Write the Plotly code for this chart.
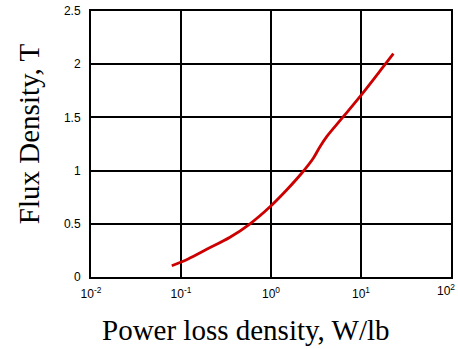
import plotly.graph_objects as go

power_loss = [0.079, 0.12, 0.193, 0.35, 0.585, 0.975, 1.5, 2.19, 2.95, 3.5, 4.16, 6.36, 10.2, 17.7, 22.9]
flux = [0.106, 0.17, 0.26, 0.373, 0.5, 0.66, 0.82, 0.975, 1.116, 1.225, 1.32, 1.507, 1.717, 1.977, 2.10]

x_tickvals = [0.01, 0.1, 1, 10]
x_ticktext = ["10<sup>-2</sup>", "10<sup>-1</sup>", "10<sup>0</sup>", "10<sup>1</sup>"]
x_last_tick = 100
x_last_text = "10<sup>2</sup>"
y_tickvals = [0, 0.5, 1, 1.5, 2, 2.5]
y_ticktext = ["0", "0.5", "1", "1.5", "2", "2.5"]

x_title = "Power loss density, W/lb"
y_title = "Flux Density, T"

fig = go.Figure()
fig.add_trace(go.Scatter(x=power_loss, y=flux, mode="lines",
                         line=dict(color="#cc0000", width=2.8, shape="spline"),
                         showlegend=False))

fig.update_layout(
    width=458, height=349,
    margin=dict(l=91, r=7, t=11, b=72),
    paper_bgcolor="white", plot_bgcolor="white",
    font=dict(family="Liberation Sans, Arial", color="black", size=12),
    xaxis=dict(type="log", range=[-2, 2], tickvals=x_tickvals + [x_last_tick],
               ticktext=x_ticktext + [""],
               showgrid=True, gridcolor="black", gridwidth=2,
               showline=True, linecolor="black", linewidth=2, mirror=True,
               zeroline=False, ticks="", ticklabelstandoff=5, automargin=False),
    yaxis=dict(range=[0, 2.5], tickvals=y_tickvals, ticktext=y_ticktext,
               showgrid=True, gridcolor="black", gridwidth=2,
               showline=True, linecolor="black", linewidth=2, mirror=True,
               zeroline=False, ticks="", ticklabelstandoff=6, automargin=False),
    annotations=[
        dict(text=x_last_text, xref="paper", yref="paper", x=1, y=0,
             xanchor="right", yanchor="top", xshift=6, yshift=-3, showarrow=False,
             font=dict(family="Liberation Sans, Arial", size=12)),
        dict(text=x_title, xref="paper", yref="paper", x=0.43, y=-0.2,
             xanchor="center", yanchor="middle", showarrow=False,
             font=dict(family="Liberation Serif, Times New Roman", size=29)),
        dict(text=y_title, xref="paper", yref="paper", x=-0.17, y=0.54,
             xanchor="center", yanchor="middle", showarrow=False, textangle=-90,
             font=dict(family="Liberation Serif, Times New Roman", size=29)),
    ],
)

fig.write_html("out.html")
